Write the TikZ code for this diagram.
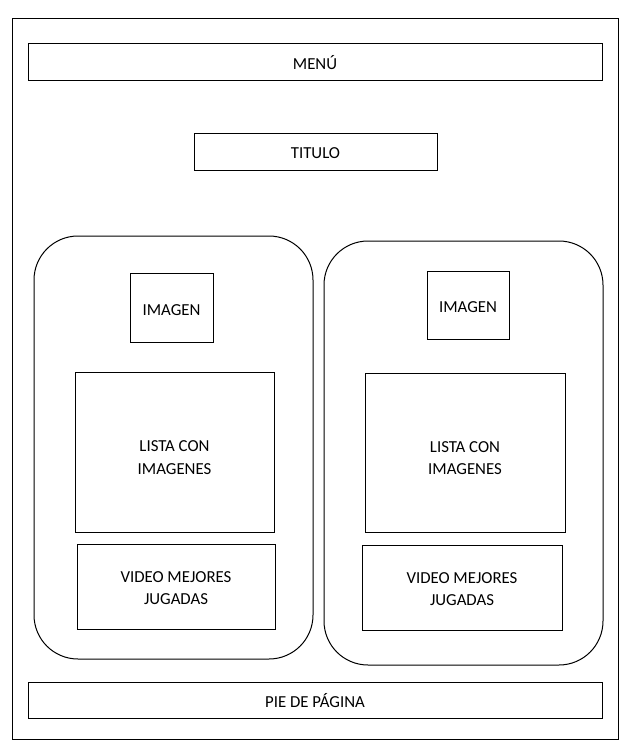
\documentclass[tikz,border=0pt]{standalone}
\usepackage{fontspec}
\setmainfont{Carlito}
\begin{document}
\begin{tikzpicture}[x=0.75pt,y=-0.75pt,
  box/.style={draw=black, line width=0.75pt, inner sep=0pt},
  txt/.style={inner sep=0pt, align=center, font=\fontsize{12.6}{16.8}\selectfont},
  sz/.style 2 args={minimum width=#1*0.75pt, minimum height=#2*0.75pt},
  rbox/.style={draw=black, line width=0.75pt, inner sep=0pt, rounded corners=33pt}]
\useasboundingbox (0,0) rectangle (632,754);
\node[box, sz={606}{721}] (outer) at (315,378.5) {};
\node[box, sz={574}{37}] (menu) at (315,61.5) {};
\node[txt] (menut) at ([yshift=-0.8pt]menu.center) {MENÚ};
\node[box, sz={243}{37}] (titulo) at (315.5,151.5) {};
\node[txt] (titulot) at ([yshift=-1.4pt]titulo.center) {TITULO};
\node[rbox, sz={279}{423}] (left) at (173.5,447.5) {};
\node[rbox, sz={279}{424}] (right) at (463.5,453) {};
\node[box, sz={83}{69}] (imgL) at (171.5,307.5) {};
\node[txt] (imgLt) at ([yshift=-1.8pt]imgL.center) {IMAGEN};
\node[box, sz={82}{68}] (imgR) at (468,305) {};
\node[txt] (imgRt) at ([yshift=-1.2pt]imgR.center) {IMAGEN};
\node[box, sz={199}{160}] (listaL) at (174.5,452) {};
\node[txt] (listaLt) at ([yshift=-4.2pt]listaL.center) {LISTA CON\\IMAGENES};
\node[box, sz={200}{159}] (listaR) at (465,452.5) {};
\node[txt] (listaRt) at ([yshift=-4.2pt]listaR.center) {LISTA CON\\IMAGENES};
\node[box, sz={198}{85}] (videoL) at (176,586.5) {};
\node[txt] (videoLt) at ([yshift=-1.4pt]videoL.center) {VIDEO MEJORES\\JUGADAS};
\node[box, sz={200}{85}] (videoR) at (462,587.5) {};
\node[txt] (videoRt) at ([yshift=-1.4pt]videoR.center) {VIDEO MEJORES\\JUGADAS};
\node[box, sz={574}{36}] (pie) at (315,700) {};
\node[txt] (piet) at ([yshift=-0.4pt]pie.center) {PIE DE PÁGINA};
\end{tikzpicture}
\end{document}
